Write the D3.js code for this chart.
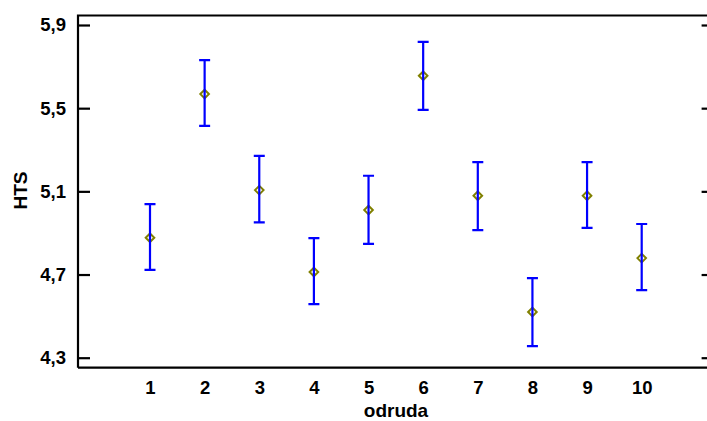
<!DOCTYPE html>
<html>
<head>
<meta charset="utf-8">
<script src="https://cdn.jsdelivr.net/npm/d3@7/dist/d3.min.js"></script>
<style>
  html, body { margin: 0; padding: 0; background: #fff; overflow: hidden; }
  svg { display: block; overflow: hidden; }
  text { font-family: "Liberation Sans", Arial, sans-serif; font-weight: bold; fill: #000; }
</style>
</head>
<body>
<svg id="chart" width="707" height="421"></svg>
<script>
// Cultivar (odruda) means of HTS with interval bars
const categories = [1, 2, 3, 4, 5, 6, 7, 8, 9, 10];
const means  = [4.877, 5.568, 5.106, 4.712, 5.010, 5.656, 5.079, 4.520, 5.079, 4.779];
const lower  = [4.722, 5.415, 4.951, 4.558, 4.847, 5.492, 4.914, 4.356, 4.924, 4.625];
const upper  = [5.039, 5.731, 5.271, 4.875, 5.175, 5.819, 5.241, 4.683, 5.241, 4.943];
const yTicks = [4.3, 4.7, 5.1, 5.5, 5.9];
const xLabel = "odruda";
const yLabel = "HTS";

const svg = d3.select("#chart");

const x = d3.scaleLinear().domain([1, 10]).range([150, 641.7]);
const y = d3.scaleLinear().domain([4.3, 5.9]).range([357.7, 25]);

const frame = { left: 78, right: 713.6, top: 15.5, bottom: 367.7 };
const fmt = v => d3.format(".1f")(v).replace(".", ",");
const tickFont = "18.5px";

// Frame lines (right edge falls just past the drawing area)
svg.append("path")
  .attr("d", `M${frame.left},${frame.bottom}V${frame.top}H${frame.right}M${frame.left},${frame.bottom}H${frame.right}`)
  .attr("fill", "none").attr("stroke", "#000").attr("stroke-width", 2.2);

// Left axis: inward ticks with labels
const yAxisL = d3.axisLeft(y).tickValues(yTicks).tickSize(-12).tickPadding(12).tickFormat(fmt);
const gl = svg.append("g").attr("transform", `translate(${frame.left},0)`).call(yAxisL);
gl.select(".domain").remove();
gl.selectAll(".tick line").attr("stroke", "#000").attr("stroke-width", 2.2);
gl.selectAll(".tick text").style("font-size", tickFont).attr("fill", "#000")
  .attr("font-family", "Liberation Sans, Arial, sans-serif").attr("font-weight", "bold");

// Right axis: inward ticks only
const yAxisR = d3.axisRight(y).tickValues(yTicks).tickSize(-12).tickFormat("");
const gr = svg.append("g").attr("transform", `translate(${frame.right},0)`).call(yAxisR);
gr.select(".domain").remove();
gr.selectAll(".tick line").attr("stroke", "#000").attr("stroke-width", 2.2);

// Bottom category labels (no tick marks)
const xAxis = d3.axisBottom(x).tickValues(categories).tickSize(0).tickPadding(13.5).tickFormat(d3.format("d"));
const gx = svg.append("g").attr("transform", `translate(0,${frame.bottom})`).call(xAxis);
gx.select(".domain").remove();
gx.selectAll(".tick text").style("font-size", tickFont).attr("fill", "#000")
  .attr("font-family", "Liberation Sans, Arial, sans-serif").attr("font-weight", "bold");

// Axis titles
svg.append("text").attr("x", 396).attr("y", 417).attr("text-anchor", "middle")
  .style("font-size", "19px").text(xLabel);
svg.append("text").attr("transform", "translate(27,190.5) rotate(-90)").attr("text-anchor", "middle")
  .style("font-size", "19px").text(yLabel);

// Mean markers (hollow diamonds)
const data = categories.map((c, i) => ({ c, m: means[i], lo: lower[i], hi: upper[i] }));
svg.append("g").selectAll("path.mean").data(data).join("path")
  .attr("class", "mean")
  .attr("d", d => { const cx = x(d.c), cy = y(d.m), r = 4.3; return `M${cx - r},${cy}L${cx},${cy - r}L${cx + r},${cy}L${cx},${cy + r}Z`; })
  .attr("fill", "none").attr("stroke", "#808000").attr("stroke-width", 2);

// Interval bars
const bars = svg.append("g").attr("stroke", "#0000ff").attr("stroke-width", 2.2).attr("fill", "none");
bars.selectAll("path.bar").data(data).join("path")
  .attr("class", "bar")
  .attr("d", d => {
    const cx = x(d.c), yl = y(d.lo), yh = y(d.hi), w = 5.5;
    return `M${cx},${yl}V${yh}M${cx - w},${yh}H${cx + w}M${cx - w},${yl}H${cx + w}`;
  });
</script>
</body>
</html>
